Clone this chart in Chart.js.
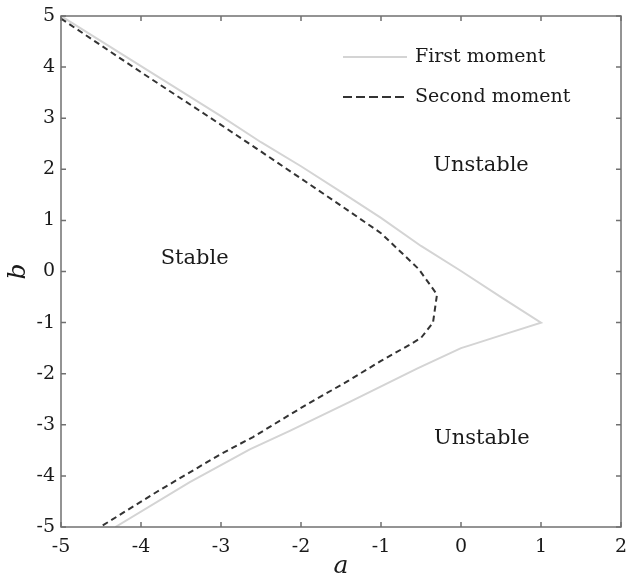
<!DOCTYPE html>
<html>
<head>
<meta charset="utf-8">
<script src="https://cdn.jsdelivr.net/npm/chart.js@4"></script>
<style>
  html, body { margin: 0; padding: 0; background: #fff; }
  #wrap { width: 628px; height: 577px; }
</style>
</head>
<body>
<div id="wrap"><canvas id="c" width="628" height="577"></canvas></div>
<script>
// Axis ticks
const aTicks = [-5, -4, -3, -2, -1, 0, 1, 2];
const bTicks = [-5, -4, -3, -2, -1, 0, 1, 2, 3, 4, 5];
const aTickLabels = ['-5', '-4', '-3', '-2', '-1', '0', '1', '2'];
const bTickLabels = ['-5', '-4', '-3', '-2', '-1', '0', '1', '2', '3', '4', '5'];

// Stability boundary from the first moment
const firstA = [-5, -4, -3, -2.5, -2, -1.5, -1, -0.5, 0, 0.5, 1, 0.5, 0.1, 0, -0.55, -1.39, -2.14, -2.64, -3.39, -4.32];
const firstB = [5, 4.02, 3.04, 2.53, 2.06, 1.56, 1.05, 0.5, 0.01, -0.5, -1, -1.25, -1.45, -1.5, -1.9, -2.55, -3.12, -3.48, -4.12, -5];

// Stability boundary from the second moment
const secondA = [-5, -4, -3, -2.55, -2.01, -1.51, -1.0, -0.53, -0.3, -0.35, -0.5, -0.65, -1.0, -1.4, -2.0, -2.6, -3.0, -3.8, -4.51];
const secondB = [4.95, 3.9, 2.87, 2.4, 1.83, 1.3, 0.75, 0.05, -0.45, -1.0, -1.3, -1.44, -1.75, -2.13, -2.67, -3.24, -3.57, -4.31, -5];

// Region annotations (in a, b coordinates)
const regionText = ['Stable', 'Unstable', 'Unstable'];
const regionA = [-3.33, 0.25, 0.26];
const regionB = [0.26, 2.08, -3.26];

const SERIF = '"DejaVu Serif", "Liberation Serif", serif';

function toPoints(xs, ys) {
  return xs.map((x, i) => ({ x: x, y: ys[i] }));
}

// Box, inward ticks on all sides, region labels and legend
const framePlugin = {
  id: 'frame',
  afterDatasetsDraw(chart) {
    const ctx = chart.ctx;
    const xs = chart.scales.x, ys = chart.scales.y;
    const L = chart.chartArea.left, R = chart.chartArea.right;
    const T = chart.chartArea.top, B = chart.chartArea.bottom;
    const tl = 5;
    ctx.save();
    ctx.strokeStyle = '#707070';
    ctx.lineWidth = 1.5;
    ctx.strokeRect(L, T, R - L, B - T);
    ctx.beginPath();
    aTicks.forEach(v => {
      const px = xs.getPixelForValue(v);
      ctx.moveTo(px, B); ctx.lineTo(px, B - tl);
      ctx.moveTo(px, T); ctx.lineTo(px, T + tl);
    });
    bTicks.forEach(v => {
      const py = ys.getPixelForValue(v);
      ctx.moveTo(L, py); ctx.lineTo(L + tl, py);
      ctx.moveTo(R, py); ctx.lineTo(R - tl, py);
    });
    ctx.stroke();

    // region labels
    ctx.fillStyle = '#1a1a1a';
    ctx.font = '21px ' + SERIF;
    ctx.textAlign = 'center';
    ctx.textBaseline = 'middle';
    regionText.forEach((t, i) => {
      ctx.fillText(t, xs.getPixelForValue(regionA[i]), ys.getPixelForValue(regionB[i]));
    });

    // legend
    ctx.font = '19px ' + SERIF;
    const rows = [57, 97];
    chart.data.datasets.forEach((ds, i) => {
      const y = rows[i];
      ctx.strokeStyle = ds.borderColor;
      ctx.lineWidth = ds.borderWidth;
      ctx.setLineDash(ds.borderDash && ds.borderDash.length ? [9, 4] : []);
      ctx.beginPath();
      ctx.moveTo(343, y); ctx.lineTo(407, y);
      ctx.stroke();
      ctx.setLineDash([]);
      ctx.fillStyle = '#1a1a1a';
      ctx.textAlign = 'left';
      ctx.fillText(ds.label, 415, y);
    });
    ctx.restore();
  }
};

new Chart(document.getElementById('c'), {
  type: 'scatter',
  data: {
    datasets: [
      {
        label: 'First moment',
        data: toPoints(firstA, firstB),
        showLine: true,
        borderColor: '#d4d4d4',
        borderWidth: 2,
        pointRadius: 0,
        tension: 0,
        order: 2
      },
      {
        label: 'Second moment',
        data: toPoints(secondA, secondB),
        showLine: true,
        borderColor: '#333333',
        borderWidth: 2,
        borderDash: [6, 4],
        pointRadius: 0,
        tension: 0,
        order: 1
      }
    ]
  },
  options: {
    responsive: false,
    animation: false,
    devicePixelRatio: 1,
    layout: { padding: { top: 16, right: 7, left: 0, bottom: 0 } },
    plugins: { legend: { display: false }, tooltip: { enabled: false } },
    scales: {
      x: {
        type: 'linear',
        min: -5, max: 2,
        afterBuildTicks(scale) { scale.ticks = aTicks.map(v => ({ value: v })); },
        afterFit(scale) { scale.height = 50; scale.paddingLeft = 0; scale.paddingRight = 0; },
        grid: { display: false, drawTicks: false },
        border: { display: false },
        ticks: {
          padding: 9,
          color: '#1a1a1a',
          font: { family: SERIF, size: 19 },
          callback: (v) => aTickLabels[aTicks.indexOf(v)]
        },
        title: {
          display: true,
          text: 'a',
          color: '#1a1a1a',
          font: { family: SERIF, size: 25, style: 'italic', lineHeight: 0.85 },
          padding: { top: 0, bottom: 0 }
        }
      },
      y: {
        type: 'linear',
        min: -5, max: 5,
        afterBuildTicks(scale) { scale.ticks = bTicks.map(v => ({ value: v })); },
        afterFit(scale) { scale.width = 61; scale.paddingTop = 0; scale.paddingBottom = 0; },
        grid: { display: false, drawTicks: false },
        border: { display: false },
        ticks: {
          padding: 6,
          color: '#1a1a1a',
          font: { family: SERIF, size: 19 },
          callback: (v) => bTickLabels[bTicks.indexOf(v)]
        },
        title: {
          display: true,
          text: 'b',
          color: '#1a1a1a',
          font: { family: SERIF, size: 25, style: 'italic', lineHeight: 1 },
          padding: { top: 6, bottom: 0 }
        }
      }
    }
  },
  plugins: [framePlugin]
});
</script>
</body>
</html>
